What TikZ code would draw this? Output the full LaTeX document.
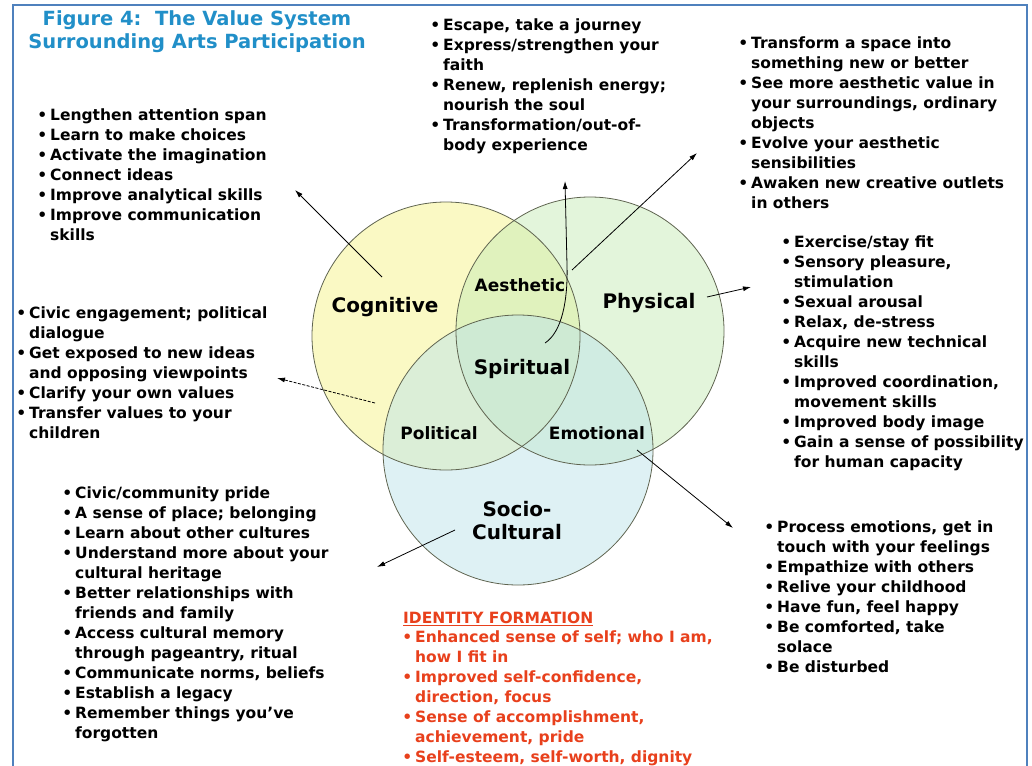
\documentclass[tikz,border=0pt]{standalone}
\usepackage{fontspec}
\setmainfont{DejaVu Sans}
\usepackage{tikz}
\usetikzlibrary{arrows.meta,positioning}

\definecolor{framebl}{RGB}{79,129,189}
\definecolor{titlebl}{RGB}{33,143,200}
\definecolor{idred}{RGB}{232,64,28}
\definecolor{cogyel}{RGB}{250,249,196}
\definecolor{phygrn}{RGB}{200,236,184}
\definecolor{soccyn}{RGB}{190,228,234}
\definecolor{ringgr}{RGB}{95,100,80}

\newcommand{\lstfont}{\bfseries\fontsize{15.5}{20}\selectfont}
\newcommand{\bul}{\strut\llap{\textbullet\hspace{3pt}}} % bullet hanging left of the text

\begin{document}
\begin{tikzpicture}[x=1pt,y=-1pt,
	lst/.style={anchor=north west, align=left, inner sep=0pt, font=\lstfont},
	ring/.style={circle, draw=ringgr, line width=0.8pt, inner sep=0pt},
	big/.style={font=\bfseries\fontsize{20}{23}\selectfont, align=center, inner sep=0pt},
	small/.style={font=\bfseries\fontsize{17}{20}\selectfont, inner sep=0pt},
	link/.style={-{Latex[length=8pt,width=5pt]}, line width=0.8pt},
]
	\useasboundingbox (0,0) rectangle (1032,765);
	\draw [framebl, line width=2pt] (13,5) rectangle (1027,775);

	% title
	\node [font=\bfseries\fontsize{19.5}{23}\selectfont, text=titlebl, align=center, inner sep=0pt] (title) at (197,31.5) {Figure 4:\ \ The Value System\\Surrounding Arts Participation};

	% the three circles
	\fill [cogyel] (446,336) circle (134pt);
	\fill [phygrn, fill opacity=0.5] (590,331) circle (134pt);
	\fill [soccyn, fill opacity=0.5] (518,450) circle (135pt);
	\node [ring, minimum size=268pt] (cog) at (446,336) {};
	\node [ring, minimum size=268pt] (phy) at (590,331) {};
	\node [ring, minimum size=270pt] (soc) at (518,450) {};

	\node [big] (lcog) at (385,307) {Cognitive};
	\node [big] (lphy) at (649,303) {Physical};
	\node [small] (laes) at (520,285) {Aesthetic};
	\node [big] (lspi) at (522,369) {Spiritual};
	\node [small] (lpol) at (439,433) {Political};
	\node [small] (lemo) at (597,433) {Emotional};
	\node [big] (lsoc) at (517,521) {Socio-\\Cultural};

	% lists
	\node [lst] (cogl) at (50,106) {\bul Lengthen attention span\\ \bul Learn to make choices\\ \bul Activate the imagination\\ \bul Connect ideas\\ \bul Improve analytical skills\\ \bul Improve communication\\ skills};
	\node [lst] (spil) at (443,16) {\bul Escape, take a journey\\ \bul Express/strengthen your\\ faith\\ \bul Renew, replenish energy;\\ nourish the soul\\ \bul Transformation/out-of-\\ body experience};
	\node [lst] (aesl) at (751,34) {\bul Transform a space into\\ something new or better\\ \bul See more aesthetic value in\\ your surroundings, ordinary\\ objects\\ \bul Evolve your aesthetic\\ sensibilities\\ \bul Awaken new creative outlets\\ in others};
	\node [lst] (phyl) at (794,233) {\bul Exercise/stay fit\\ \bul Sensory pleasure,\\ stimulation\\ \bul Sexual arousal\\ \bul Relax, de-stress\\ \bul Acquire new technical\\ skills\\ \bul Improved coordination,\\ movement skills\\ \bul Improved body image\\ \bul Gain a sense of possibility\\ for human capacity};
	\node [lst] (poll) at (29,304) {\bul Civic engagement; political\\ dialogue\\ \bul Get exposed to new ideas\\ and opposing viewpoints\\ \bul Clarify your own values\\ \bul Transfer values to your\\ children};
	\node [lst] (socl) at (75,484) {\bul Civic/community pride\\ \bul A sense of place; belonging\\ \bul Learn about other cultures\\ \bul Understand more about your\\ cultural heritage\\ \bul Better relationships with\\ friends and family\\ \bul Access cultural memory\\ through pageantry, ritual\\ \bul Communicate norms, beliefs\\ \bul Establish a legacy\\ \bul Remember things you’ve\\ forgotten};
	\node [lst] (emol) at (777,518) {\bul Process emotions, get in\\ touch with your feelings\\ \bul Empathize with others\\ \bul Relive your childhood\\ \bul Have fun, feel happy\\ \bul Be comforted, take\\ solace\\ \bul Be disturbed};
	\node [lst, text=idred] (idhd) at (403,609) {\strut\underline{IDENTITY FORMATION}};
	\node [lst, text=idred] (idl) at (415,628) {\bul Enhanced sense of self; who I am,\\ how I fit in\\ \bul Improved self-confidence,\\ direction, focus\\ \bul Sense of accomplishment,\\ achievement, pride\\ \bul Self-esteem, self-worth, dignity};

	% arrow ends
	\coordinate (cogt) at (382,277);  \coordinate (cogh) at (295,190);
	\coordinate (spit) at (545,343);  \coordinate (spih) at (565,181);
	\coordinate (aest) at (572,270);  \coordinate (aesh) at (697,153);
	\coordinate (phyt) at (707,297);  \coordinate (phyh) at (751,287);
	\coordinate (polt) at (375,403);  \coordinate (polh) at (277,378);
	\coordinate (emot) at (637,450);  \coordinate (emoh) at (733,528);
	\coordinate (soct) at (455,530);  \coordinate (soch) at (377,567);

	\draw [link] (cogt) -- (cogh);
	\draw [link] (spit) .. controls (562,332) and (568,300) .. (567,265) -- (spih);
	\draw [link] (aest) -- (aesh);
	\draw [link] (phyt) -- (phyh);
	\draw [link, dash pattern=on 3pt off 1.5pt] (polt) -- (polh);
	\draw [link] (emot) -- (emoh);
	\draw [link] (soct) -- (soch);

\end{tikzpicture}
\end{document}
